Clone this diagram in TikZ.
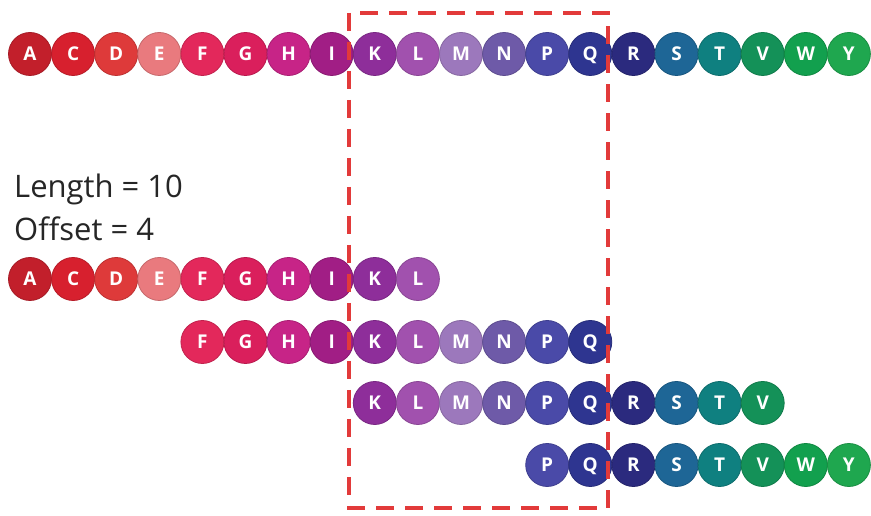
\documentclass[tikz,border=0pt]{standalone}
\usepackage{fontspec}
\setmainfont{Open Sans}
\definecolor{cA}{HTML}{C21F2B}
\definecolor{cC}{HTML}{D7202E}
\definecolor{cD}{HTML}{DE3A3A}
\definecolor{cE}{HTML}{E97A7E}
\definecolor{cF}{HTML}{E3285B}
\definecolor{cG}{HTML}{DA1F5C}
\definecolor{cH}{HTML}{C72487}
\definecolor{cI}{HTML}{A11E85}
\definecolor{cK}{HTML}{8E2E9A}
\definecolor{cL}{HTML}{A151AE}
\definecolor{cM}{HTML}{9C78BC}
\definecolor{cN}{HTML}{6E5AA8}
\definecolor{cP}{HTML}{4A4AA8}
\definecolor{cQ}{HTML}{2E3590}
\definecolor{cR}{HTML}{2B2A7E}
\definecolor{cS}{HTML}{1E6696}
\definecolor{cT}{HTML}{0F8080}
\definecolor{cV}{HTML}{149158}
\definecolor{cW}{HTML}{12A04E}
\definecolor{cY}{HTML}{1FA74F}
\definecolor{dashred}{HTML}{E23A3A}
\tikzset{
  aa/.style={circle, minimum size=43pt, inner sep=0pt, fill=#1, draw=#1!85!black, line width=0.8pt,
    text=white, font=\fontsize{19}{19}\selectfont\bfseries, text height=14pt, text depth=0pt},
  lbl/.style={anchor=base west, inner sep=0pt, font=\fontsize{31}{31}\selectfont, text=black!85},
  dashbox/.style={draw=dashred, line width=3.2pt, dash pattern=on 18pt off 11pt}
}
\newcommand\seqrow[4]{%
  \foreach \L/\i in {A/0,C/1,D/2,E/3,F/4,G/5,H/6,I/7,K/8,L/9,M/10,N/11,P/12,Q/13,R/14,S/15,T/16,V/17,W/18,Y/19}{%
    \ifnum\i<#3\relax\else\ifnum\i>#4\relax\else
      \node[aa=c\L] (#1\L) at ({30+43.1*\i},{516-#2}) {\L};
    \fi\fi
  }}
\begin{document}
\begin{tikzpicture}[x=1pt,y=1pt]
\useasboundingbox (0,0) rectangle (871,516);
\fill[white] (0,0) rectangle (871,516);
\seqrow{a}{54}{0}{19}
\seqrow{b}{279}{0}{9}
\seqrow{c}{342}{4}{13}
\seqrow{d}{403}{8}{17}
\seqrow{e}{465}{12}{19}
\node[lbl] (len) at (14,{516-198}) {Length = 10};
\node[lbl] (off) at (14,{516-241}) {Offset = 4};
\coordinate (tl) at (349,{516-13});
\coordinate (br) at (608,{516-508});
\draw[dashbox] (tl) rectangle (br);
\end{tikzpicture}
\end{document}
